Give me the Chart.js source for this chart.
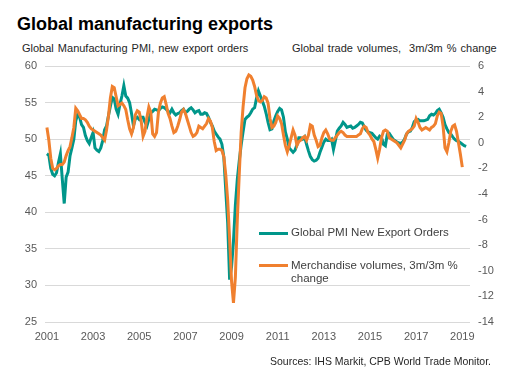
<!DOCTYPE html>
<html>
<head>
<meta charset="utf-8">
<script src="https://cdn.jsdelivr.net/npm/chart.js@4.4.1/dist/chart.umd.min.js"></script>
<style>
  html, body { margin: 0; padding: 0; background: #fff; }
  body { width: 517px; height: 384px; position: relative; overflow: hidden;
         font-family: "Liberation Sans", Arial, sans-serif; }
  .txt { position: absolute; white-space: nowrap; line-height: 1; }
  #wrap { position: absolute; left: 0; top: 0; width: 517px; height: 384px; }
  .key { position: absolute; height: 3px; width: 29px; }
</style>
</head>
<body>
<div class="txt" style="left:17px; top:15px; font-size:18px; font-weight:bold; color:#000;">Global manufacturing exports</div>
<div class="txt" style="left:22px; top:43px; font-size:11px; color:#262626; word-spacing:1px;">Global Manufacturing PMI, new export orders</div>
<div class="txt" style="left:292px; top:43px; font-size:11px; color:#262626; word-spacing:1px;">Global trade volumes,&nbsp; 3m/3m % change</div>

<div id="wrap"><canvas id="chart"></canvas></div>

<div class="key" style="left:259px; top:232px; background:#00968a;"></div>
<div class="txt" style="left:291px; top:227px; font-size:11.5px; color:#404040;">Global PMI New Export Orders</div>
<div class="key" style="left:259px; top:264px; background:#f0802f;"></div>
<div class="txt" style="left:291px; top:259px; font-size:11.5px; color:#404040; line-height:13px;">Merchandise volumes, 3m/3m %<br>change</div>

<div class="txt" style="right:26px; top:356px; font-size:10.5px; color:#262626;">Sources: IHS Markit, CPB World Trade Monitor.</div>

<script>
// x axis: months from Jan 2001 (index 0)
const tickYears = ['2001', '2003', '2005', '2007', '2009', '2011', '2013', '2015', '2017', '2019'];

// Global PMI new export orders, monthly Jan 2001 - Mar 2019 (left axis)
const pmiExportOrders = [
  48.0, 47.8, 46.0, 45.2, 45.0, 45.4, 46.8, 48.0, 44.5, 41.2, 44.8, 45.5, // 2001
  47.7, 48.8, 50.0, 52.5, 53.4, 53.0, 52.0, 51.6, 50.5, 49.8, 49.4, 50.2, // 2002
  50.9, 48.8, 48.5, 48.3, 48.8, 49.8, 51.3, 51.8, 53.2, 54.5, 55.7, 55.5, // 2003
  54.1, 53.4, 54.8, 55.9, 57.3, 55.9, 55.6, 55.0, 53.5, 51.8, 52.8, 53.0, // 2004
  52.7, 53.0, 53.0, 52.3, 51.8, 52.7, 53.6, 53.8, 54.1, 54.0, 53.9, 54.2, // 2005
  54.4, 54.3, 54.1, 53.8, 53.6, 54.1, 53.6, 53.3, 53.5, 53.6, 53.9, 54.1, // 2006
  53.6, 53.8, 54.1, 54.3, 54.0, 53.6, 53.8, 53.9, 53.4, 53.4, 53.6, 53.5, // 2007
  53.0, 52.3, 51.8, 51.1, 50.7, 50.3, 50.0, 49.3, 47.5, 43.0, 38.5, 30.8, // 2008
  32.5, 36.0, 41.0, 44.5, 47.0, 49.2, 51.0, 52.7, 53.0, 53.2, 53.6, 54.1, // 2009
  54.3, 55.6, 56.6, 55.9, 55.2, 54.5, 53.5, 52.3, 51.3, 51.4, 52.5, 53.2, // 2010
  53.8, 54.2, 54.0, 53.0, 51.0, 50.0, 48.8, 48.5, 48.2, 48.5, 49.2, 50.2, // 2011
  50.2, 50.0, 50.3, 49.3, 48.4, 47.6, 47.2, 47.0, 47.1, 47.4, 48.2, 48.9, // 2012
  49.6, 50.0, 49.8, 49.8, 50.0, 48.6, 49.8, 51.1, 51.5, 51.8, 52.3, 52.0, // 2013
  51.6, 51.7, 51.8, 51.5, 51.6, 51.8, 52.0, 52.3, 52.2, 51.7, 51.2, 51.0, // 2014
  50.9, 50.8, 50.5, 50.2, 50.0, 50.4, 50.2, 49.3, 49.1, 50.7, 50.8, 50.4, // 2015
  50.0, 49.8, 49.6, 49.5, 49.4, 49.6, 50.0, 50.7, 51.0, 51.1, 51.6, 52.4, // 2016
  52.6, 52.7, 52.5, 52.5, 52.5, 52.6, 52.7, 53.2, 53.4, 53.3, 53.5, 53.9, // 2017
  54.1, 53.6, 53.0, 52.0, 51.4, 50.9, 50.7, 50.3, 50.0, 49.8, 49.7, 49.5, // 2018
  49.3, 49.1, 49.0                                                        // 2019
];

// Merchandise trade volumes, 3m/3m % change, Jan 2001 - Jan 2019 (right axis)
const tradeVolumes = [
  1.2, 0.2, -1.2, -2.0, -2.1, -2.0, -1.8, -1.7, -1.7, -1.5, -1.0, -0.6,   // 2001
  -0.3, 0.4, 1.2, 2.7, 2.5, 2.2, 1.9, 1.9, 1.8, 1.6, 1.3, 1.1,           // 2002
  1.0, 0.9, 0.8, 0.7, 0.6, 0.4, 0.2, 1.0, 2.1, 3.5, 4.4, 4.3,            // 2003
  3.6, 2.9, 3.0, 3.1, 2.9, 2.6, 1.8, 1.1, 0.7, 1.2, 2.2, 2.5,            // 2004
  2.4, 1.7, 0.5, 0.9, 2.0, 2.8, 2.4, 0.7, 0.5, 0.8, 2.4, 3.1,            // 2005
  3.5, 3.6, 3.0, 2.3, 1.9, 1.3, 0.8, 0.9, 1.3, 1.8, 2.4, 2.6,            // 2006
  2.3, 1.8, 1.3, 0.8, 0.5, 0.6, 0.8, 1.3, 1.2, 1.1, 1.3, 1.5,            // 2007
  1.9, 1.7, 1.2, 0.1, -0.6, -0.5, -0.5, -0.6, -1.1, -2.5, -4.5, -7.5,    // 2008
  -10.8, -12.5, -10.5, -6.0, -2.5, 0.8, 2.8, 4.3, 5.0, 5.3, 5.2, 4.9,    // 2009
  4.4, 3.7, 3.3, 3.2, 3.3, 3.6, 3.5, 3.1, 1.9, 1.2, 1.3, 1.6,            // 2010
  2.1, 1.9, 1.5, 0.6, -0.2, -0.7, -0.2, 0.4, 1.0, 0.6, -0.2, 0.1,        // 2011
  0.2, 0.4, 0.5, 0.2, 0.6, 1.4, 1.3, 0.6, 0.2, -0.3, -0.2, 0.4,          // 2012
  0.8, 1.0, 0.7, 0.3, 0.2, 0.2, 0.4, 0.6, 0.8, 0.9, 0.8, 0.6,            // 2013
  0.5, 0.5, 0.5, 0.5, 0.5, 0.5, 0.6, 0.7, 1.1, 1.3, 1.2, 0.8,            // 2014
  0.6, 0.3, 0.1, -0.5, -1.2, -0.5, 0.4, 0.9, 1.0, 0.9, 0.4, 0.3,         // 2015
  0.2, 0.1, 0.0, -0.2, -0.4, -0.1, 0.2, 0.7, 0.9, 1.0, 1.1, 1.3,         // 2016
  1.9, 1.6, 1.2, 1.0, 1.1, 1.2, 1.1, 1.0, 1.2, 1.3, 1.5, 2.1,            // 2017
  2.4, 2.3, 1.3, -0.4, -0.7, 0.0, 0.9, 1.3, 1.4, 0.9, 0.0, -0.9,         // 2018
  -1.9                                                                   // 2019
];

const pmiColor = '#00968a';
const tradeColor = '#f0802f';
const tickFont = { family: '"Liberation Sans", Arial, sans-serif', size: 11 };

const ctx = document.getElementById('chart').getContext('2d');
new Chart(ctx, {
  type: 'line',
  data: {
    datasets: [{
      label: 'Merchandise volumes, 3m/3m % change',
      data: tradeVolumes.map((v, i) => ({ x: i, y: v })),
      yAxisID: 'yRight',
      borderColor: tradeColor,
      borderWidth: 3,
      pointRadius: 0,
      tension: 0,
      order: 0
    }, {
      label: 'Global PMI New Export Orders',
      data: pmiExportOrders.map((v, i) => ({ x: i, y: v })),
      yAxisID: 'yLeft',
      borderColor: pmiColor,
      borderWidth: 3,
      pointRadius: 0,
      tension: 0,
      order: 1
    }]
  },
  options: {
    responsive: true,
    maintainAspectRatio: false,
    animation: false,
    layout: { padding: { top: 66, bottom: 32, left: 0, right: 0 } },
    plugins: { legend: { display: false }, tooltip: { enabled: false } },
    scales: {
      x: {
        type: 'linear',
        min: -1,
        max: 220,
        grid: { display: false, drawTicks: false },
        border: { display: false },
        afterBuildTicks: (scale) => { scale.ticks = tickYears.map((y, k) => ({ value: k * 24 })); },
        afterFit: (scale) => { scale.height = 30; },
        ticks: {
          color: '#595959', font: tickFont, padding: 8, maxRotation: 0, autoSkip: false,
          callback: (value, index) => tickYears[index]
        }
      },
      yLeft: {
        position: 'left',
        min: 25,
        max: 60,
        afterFit: (scale) => { scale.width = 45; },
        grid: { color: '#d9d9d9', lineWidth: 1, drawTicks: false },
        border: { display: false },
        ticks: { stepSize: 5, color: '#595959', font: tickFont, padding: 8 }
      },
      yRight: {
        position: 'right',
        min: -14,
        max: 6,
        afterFit: (scale) => { scale.width = 47; },
        grid: { display: false, drawTicks: false },
        border: { display: false },
        ticks: { stepSize: 2, color: '#595959', font: tickFont, padding: 8 }
      }
    }
  }
});
</script>
</body>
</html>
